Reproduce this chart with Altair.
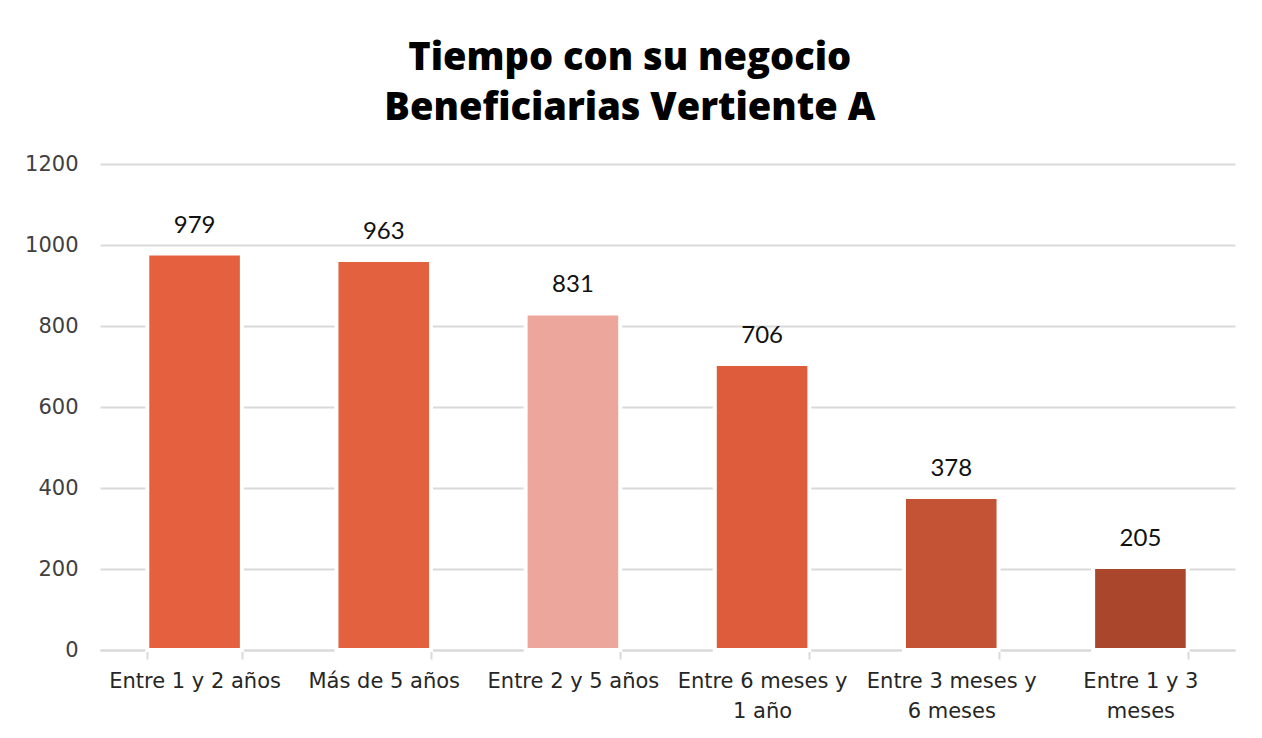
import altair as alt
import pandas as pd

categories = ["Entre 1 y 2 años", "Más de 5 años", "Entre 2 y 5 años",
              "Entre 6 meses y 1 año", "Entre 3 meses y 6 meses", "Entre 1 y 3 meses"]
values = [979, 963, 831, 706, 378, 205]
colors = ["#E4603F", "#E4613F", "#EDA69B", "#DE5B3C", "#C45235", "#A9462C"]
label_lines = [["Entre 1 y 2 años"], ["Más de 5 años"], ["Entre 2 y 5 años"],
               ["Entre 6 meses y", "1 año"], ["Entre 3 meses y", "6 meses"], ["Entre 1 y 3", "meses"]]
y_ticks = [0, 200, 400, 600, 800, 1000, 1200]

df = pd.DataFrame({"cat": categories, "val": values, "color": colors})

expr = "datum.label"
for c, lines in zip(reversed(categories), reversed(label_lines)):
    arr = "[" + ",".join("'" + l + "'" for l in lines) + "]"
    expr = f"datum.label == '{c}' ? {arr} : ({expr})"

W, H = 1135, 486

x = alt.X("cat:N", sort=categories, title=None,
          scale=alt.Scale(paddingInner=0.5, paddingOuter=0.25),
          axis=alt.Axis(labelAngle=0, labelExpr=expr, labelFont="DejaVu Sans",
                        labelFontSize=21, labelColor="#262626", labelPadding=11,
                        labelLineHeight=30, tickBand="extent", tickSize=9,
                        tickColor="#D9D9D9", tickWidth=2, domainColor="#D9D9D9",
                        domainWidth=2, grid=False, labelLimit=400))

bars = alt.Chart(df).mark_bar(stroke="white", strokeWidth=4).encode(
    x=x,
    y=alt.Y("val:Q", title=None,
            scale=alt.Scale(domain=[0, 1200]),
            axis=alt.Axis(values=y_ticks, format="d", labelFont="DejaVu Sans",
                          labelFontSize=21, labelColor="#404040", labelPadding=22,
                          ticks=False, domain=False, gridColor="#D9D9D9", gridWidth=2)),
    color=alt.Color("color:N", scale=None),
)

text = alt.Chart(df).mark_text(font="Lato", fontSize=24, color="#111111",
                               baseline="middle", dy=-28).encode(
    x=alt.X("cat:N", sort=categories),
    y="val:Q",
    text="val:Q",
)

chart = alt.layer(bars, text).properties(
    width=W, height=H,
    background="white",
    title=alt.TitleParams(text=["Tiempo con su negocio", "Beneficiarias Vertiente A"],
                          font="Open Sans", fontSize=38, fontWeight=800, color="#000000",
                          anchor="middle", frame="bounds", lineHeight=50, offset=-13,
                          baseline="bottom"),
    autosize=alt.AutoSizeParams(type="none"),
    padding={"left": 92, "top": 156, "right": 19, "bottom": 80},
).configure_view(strokeWidth=0, stroke="transparent")

chart.save("out.html", embed_options={"renderer": "svg", "actions": False})
